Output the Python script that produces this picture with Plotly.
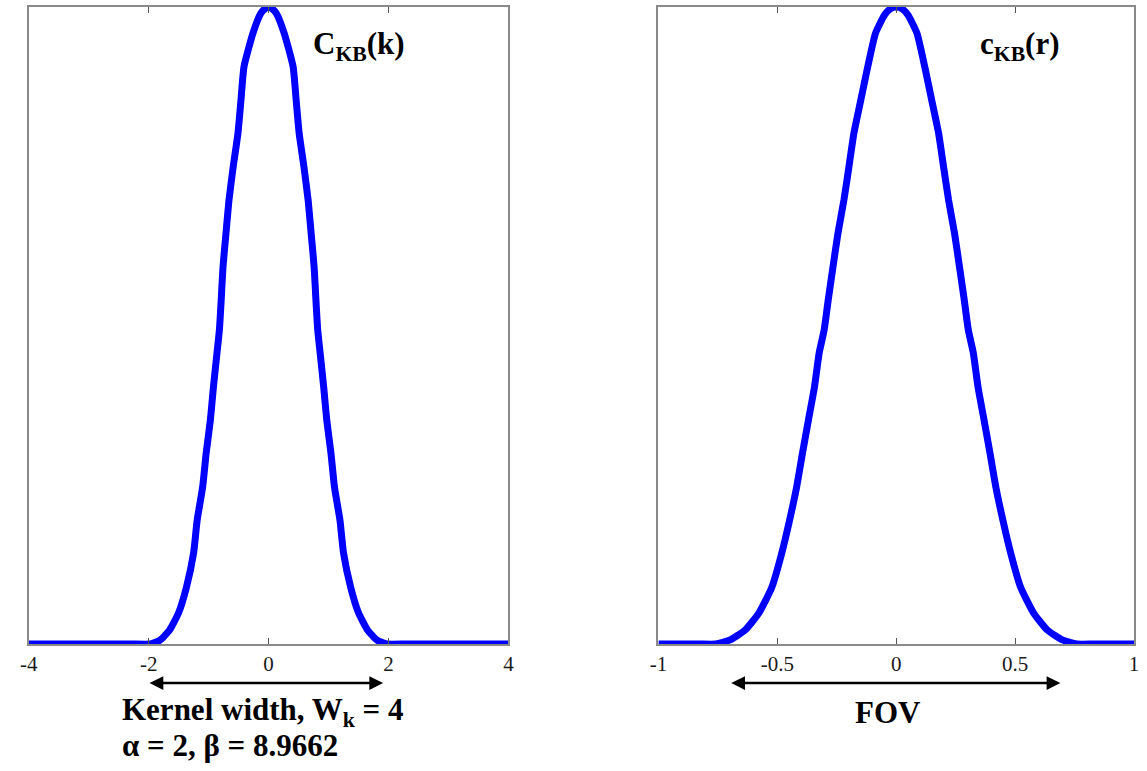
import plotly.graph_objects as go

# ---- data (right half; curves are symmetric) ----
k_half = [0.0, 0.05, 0.13, 0.26, 0.41, 0.46, 0.51, 0.59, 0.66, 0.71, 0.76, 0.79, 0.82,
          0.86, 0.92, 0.97, 1.04, 1.10, 1.19, 1.25, 1.37, 1.50, 1.65, 1.81, 1.97,
          2.3, 3.0, 4.0]
ckb_half = [1.0, 0.998, 0.99, 0.959, 0.906, 0.854, 0.802, 0.749, 0.697, 0.645, 0.592, 0.540,
            0.493, 0.457, 0.403, 0.352, 0.300, 0.246, 0.195, 0.143, 0.089, 0.049, 0.022, 0.006,
            0.0, 0.0, 0.0, 0.0]

r_half = [0.0, 0.025, 0.05, 0.087, 0.120, 0.149, 0.178, 0.199, 0.220, 0.245, 0.266, 0.286,
          0.303, 0.324, 0.344, 0.369, 0.394, 0.419, 0.448, 0.481, 0.523, 0.577, 0.635, 0.701,
          0.759, 0.83, 0.92, 1.0]
ckb_r_half = [1.0, 0.997, 0.987, 0.959, 0.906, 0.854, 0.802, 0.749, 0.697, 0.645, 0.592, 0.540,
              0.493, 0.457, 0.403, 0.352, 0.300, 0.246, 0.195, 0.143, 0.089, 0.049, 0.022, 0.006,
              0.0, 0.0, 0.0, 0.0]

k_ticks = [-4, -2, 0, 2, 4]
k_tick_labels = ["-4", "-2", "0", "2", "4"]
r_ticks = [-1, -0.5, 0, 0.5, 1]
r_tick_labels = ["-1", "-0.5", "0", "0.5", "1"]

k_vals = [-v for v in reversed(k_half[1:])] + k_half
ckb_vals = list(reversed(ckb_half[1:])) + ckb_half
r_vals = [-v for v in reversed(r_half[1:])] + r_half
ckbr_vals = list(reversed(ckb_r_half[1:])) + ckb_r_half

W, H = 1147, 771
BLUE = "#0000FF"
SERIF = "Liberation Serif"

fig = go.Figure()
fig.add_trace(go.Scatter(x=k_vals, y=ckb_vals, mode="lines",
                         line=dict(color=BLUE, width=7, shape="spline", smoothing=0.5),
                         xaxis="x", yaxis="y", showlegend=False, cliponaxis=False))
fig.add_trace(go.Scatter(x=r_vals, y=ckbr_vals, mode="lines",
                         line=dict(color=BLUE, width=7, shape="spline", smoothing=0.5),
                         xaxis="x2", yaxis="y2", showlegend=False, cliponaxis=False))

y_top = 1 - 7 / H
y_bot = 1 - 644 / H

axis_common = dict(showline=True, linecolor="#8a8a8a", linewidth=1.5, mirror="ticks",
                   ticks="inside", ticklen=6, tickcolor="#555555", showgrid=False,
                   zeroline=False, tickfont=dict(family=SERIF, size=21, color="#1a1a1a"))

fig.update_layout(
    width=W, height=H,
    margin=dict(l=0, r=0, t=0, b=0),
    paper_bgcolor="white", plot_bgcolor="white",
    xaxis=dict(domain=[20 / W, 506 / W], range=[-4, 4], tickvals=k_ticks,
               ticktext=k_tick_labels, anchor="y", **axis_common),
    yaxis=dict(domain=[y_bot, y_top], range=[0, 1], showticklabels=False,
               showline=True, linecolor="#8a8a8a", linewidth=1.5, mirror=True,
               ticks="", showgrid=False, zeroline=False, anchor="x"),
    xaxis2=dict(domain=[658 / W, 1140 / W], range=[-1, 1], tickvals=r_ticks,
                ticktext=r_tick_labels, anchor="y2", **axis_common),
    yaxis2=dict(domain=[y_bot, y_top], range=[0, 1], showticklabels=False,
                showline=True, linecolor="#8a8a8a", linewidth=1.5, mirror=True,
                ticks="", showgrid=False, zeroline=False, anchor="x2"),
)

arrow_y = 1 - 683 / H
ann = []
# double-headed arrows
for xref, x0, x1 in [("x", -2.01, 1.91), ("x2", -0.70, 0.69)]:
    ann.append(dict(x=x1, y=arrow_y, ax=x0, ay=0, xref=xref, yref="paper",
                    axref=xref, ayref="pixel", showarrow=True, arrowhead=2,
                    arrowside="end+start", arrowsize=1.1, arrowwidth=2.5,
                    arrowcolor="black", text=""))

font_big = dict(family=SERIF, size=31, color="black")
ann.append(dict(x=112 / W, y=1 - 712 / H, xref="paper", yref="paper", xanchor="left",
                yanchor="middle", showarrow=False, font=font_big,
                text="<b>Kernel width, W<sub>k</sub> = 4</b>"))
ann.append(dict(x=112 / W, y=1 - 745 / H, xref="paper", yref="paper", xanchor="left",
                yanchor="middle", showarrow=False, font=font_big,
                text="<b>α = 2, β = 8.9662</b>"))
ann.append(dict(x=891 / W, y=1 - 712 / H, xref="paper", yref="paper", xanchor="center",
                yanchor="middle", showarrow=False, font=font_big, text="<b>FOV</b>"))
ann.append(dict(x=306 / W, y=1 - 46 / H, xref="paper", yref="paper", xanchor="left",
                yanchor="middle", showarrow=False, font=font_big,
                text="<b>C<sub>KB</sub>(k)</b>"))
ann.append(dict(x=982 / W, y=1 - 46 / H, xref="paper", yref="paper", xanchor="left",
                yanchor="middle", showarrow=False, font=font_big,
                text="<b>c<sub>KB</sub>(r)</b>"))
fig.update_layout(annotations=ann)

fig.write_html("out.html")
